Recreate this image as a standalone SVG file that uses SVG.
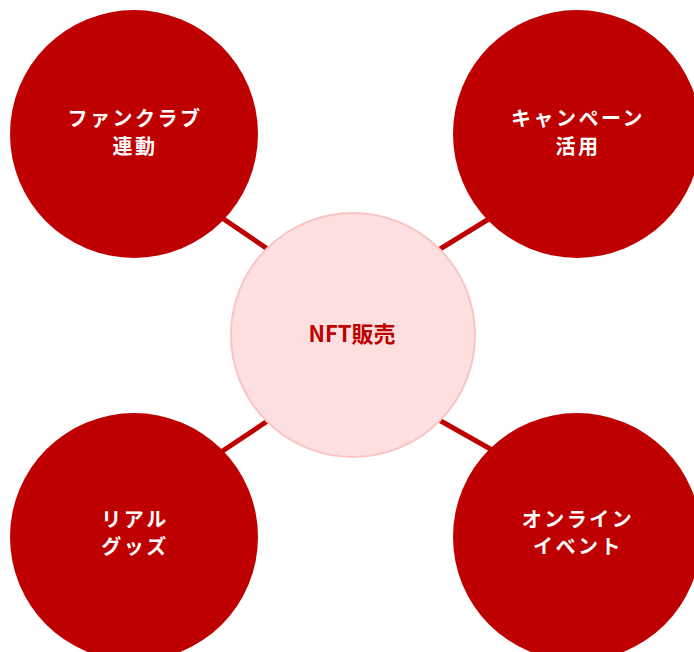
<svg xmlns="http://www.w3.org/2000/svg" width="694" height="652" viewBox="0 0 694 652">
<style>
.outer{fill:#bf0000;}
.hub{fill:#fddfdf;stroke:#f9c4c4;stroke-width:2;}
.link{stroke:#bf0000;stroke-width:5;fill:none;}
.lbl{font-family:"Noto Sans CJK JP","Noto Sans",sans-serif;font-weight:bold;font-size:20px;fill:#ffffff;text-anchor:middle;letter-spacing:2.5px;}
.hubl{font-family:"Noto Sans CJK JP","Noto Sans",sans-serif;font-weight:bold;font-size:22px;fill:#bf0000;text-anchor:middle;}
</style>
<rect width="694" height="652" fill="#ffffff"/>
<g id="connectors">
<line class="link" x1="200" y1="203" x2="275" y2="254"/>
<line class="link" x1="510" y1="206" x2="432" y2="254"/>
<line class="link" x1="200" y1="466" x2="275" y2="416"/>
<line class="link" x1="510" y1="460" x2="432" y2="416"/>
</g>
<g id="hub">
<circle class="hub" cx="353" cy="335" r="122"/>
<text class="hubl" x="352" y="342">NFT販売</text>
</g>
<g id="fanclub">
<circle class="outer" cx="134" cy="134" r="124"/>
<text class="lbl" x="135" y="126">ファンクラブ</text>
<text class="lbl" x="135" y="154">連動</text>
</g>
<g id="campaign">
<circle class="outer" cx="577" cy="134" r="124"/>
<text class="lbl" x="578" y="126">キャンペーン</text>
<text class="lbl" x="578" y="154">活用</text>
</g>
<g id="goods">
<circle class="outer" cx="134" cy="537" r="124"/>
<text class="lbl" x="135" y="527">リアル</text>
<text class="lbl" x="135" y="554">グッズ</text>
</g>
<g id="online">
<circle class="outer" cx="577" cy="537" r="124"/>
<text class="lbl" x="578" y="527">オンライン</text>
<text class="lbl" x="578" y="554">イベント</text>
</g>
</svg>
